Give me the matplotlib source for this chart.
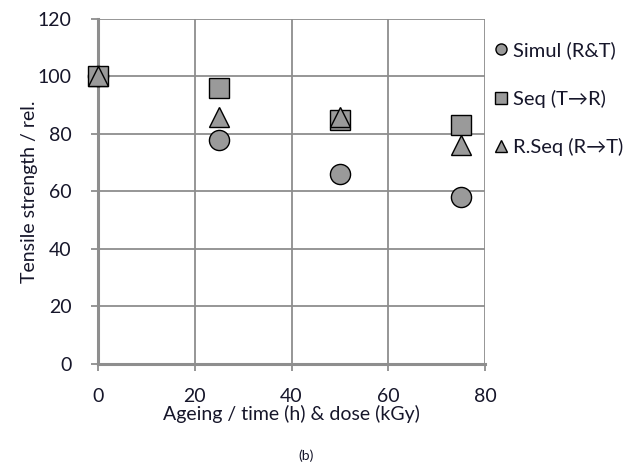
import numpy as np
import matplotlib.pyplot as plt

plt.rcParams['font.family'] = ['Lato', 'DejaVu Sans']

x = [0, 25, 50, 75]
simul = [100, 78, 66, 58]
seq = [100, 96, 85, 83]
rseq = [100, 86, 86, 76]
labels = ["Simul (R&T)", "Seq (T\u2192R)", "R.Seq (R\u2192T)"]

txt = '#16162a'
grid = '#8e8e8e'

fig = plt.figure(figsize=(6.3, 4.72), dpi=100)
ax = fig.add_axes([0.1556, 0.229, 0.6144, 0.731])

ax.plot(x, simul, 'o', ms=14.5, mfc='#9a9a9a', mec='black', mew=1.0, ls='none', label=labels[0], zorder=3, clip_on=False)
ax.plot(x, seq, 's', ms=14.5, mfc='#9a9a9a', mec='black', mew=1.0, ls='none', label=labels[1], zorder=4, clip_on=False)
ax.plot(x, rseq, '^', ms=14.5, mfc='#9a9a9a', mec='black', mew=1.0, ls='none', label=labels[2], zorder=5, clip_on=False)

ax.set_xlim(0, 80)
ax.set_ylim(0, 120)
ax.set_xticks([0, 20, 40, 60, 80])
ax.set_yticks([0, 20, 40, 60, 80, 100, 120])
ax.grid(True, color=grid, lw=1.3)
ax.set_axisbelow(True)
for s in ['top', 'right']:
    ax.spines[s].set_visible(False)
for s in ['left', 'bottom']:
    ax.spines[s].set_color(grid)
    ax.spines[s].set_linewidth(2.2)
ax.tick_params(axis='both', colors=grid, width=1.3, length=5, labelsize=14, labelcolor=txt)
ax.tick_params(axis='x', pad=12)
ax.tick_params(axis='y', pad=14)

ax.set_xlabel("Ageing / time (h) & dose (kGy)", fontsize=14, color=txt, labelpad=0)
ax.set_ylabel("Tensile strength / rel.", fontsize=14, color=txt)
ax.yaxis.set_label_coords(-0.155, 0.5)

leg = ax.legend(loc='upper left', bbox_to_anchor=(0.99, 0.975), frameon=False, fontsize=14.5,
                markerscale=0.55, handlelength=0.6, handletextpad=0.3, labelspacing=1.5,
                borderaxespad=0.3)
for t in leg.get_texts():
    t.set_color(txt)

fig.text(0.486, 0.025, "(b)", fontsize=10, color=txt, ha='center')

fig.savefig('out.png', dpi=100)
